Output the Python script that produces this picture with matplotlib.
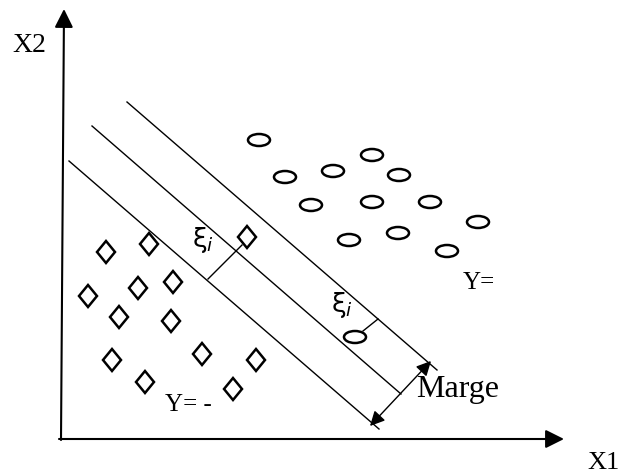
import matplotlib
matplotlib.use('Agg')
import matplotlib.pyplot as plt
from matplotlib.patches import Ellipse, Polygon

plt.rcParams['font.family'] = ['Liberation Serif', 'DejaVu Serif']
plt.rcParams['mathtext.fontset'] = 'dejavusans'

# canvas in pixel units (618 x 474), y pointing down
W, H = 618, 474

# classe Y = + : ellipses
cercles_x = [259, 285, 311, 333, 372, 399, 372, 430, 478, 349, 398, 447, 355]
cercles_y = [140, 177, 205, 171, 155, 175, 202, 202, 222, 240, 233, 251, 337]

# classe Y = - : losanges
losanges_x = [106, 149, 247, 88, 138, 173, 119, 171, 112, 202, 256, 145, 233]
losanges_y = [252, 244, 237, 296, 288, 282, 317, 321, 360, 354, 360, 382, 389]

# hyperplans paralleles (debut -> fin)
lignes_x0 = [127, 92, 69]
lignes_y0 = [102, 126, 161]
lignes_x1 = [437, 401, 379]
lignes_y1 = [370, 394, 429]

# variables d'ecart
ecarts = [((242, 245), (208, 279)), ((363, 331), (378, 319))]
ecarts_txt = [(203, 240), (342, 305)]

fig = plt.figure(figsize=(W / 100, H / 100), dpi=100)
ax = fig.add_axes([0, 0, 1, 1])
ax.set_xlim(0, W)
ax.set_ylim(H, 0)
ax.axis('off')

# axes X1 / X2
ax.annotate('', xy=(64, 9), xytext=(61, 440),
            arrowprops=dict(arrowstyle='-|>', color='black', lw=1.5, mutation_scale=28,
                            shrinkA=0, shrinkB=0))
ax.annotate('', xy=(564, 439), xytext=(59, 439),
            arrowprops=dict(arrowstyle='-|>', color='black', lw=1.5, mutation_scale=28,
                            shrinkA=0, shrinkB=0))
ax.text(12, 45, 'X2', fontsize=20, ha='left', va='center')
ax.text(587, 452, 'X1', fontsize=19, ha='left', va='top')

for x0, y0, x1, y1 in zip(lignes_x0, lignes_y0, lignes_x1, lignes_y1):
    ax.plot([x0, x1], [y0, y1], color='black', lw=1.0)

for x, y in zip(cercles_x, cercles_y):
    ax.add_patch(Ellipse((x, y), 22, 12, fill=False, ec='black', lw=1.8))

for x, y in zip(losanges_x, losanges_y):
    ax.add_patch(Polygon([(x, y - 11), (x + 9, y), (x, y + 11), (x - 9, y)],
                         closed=True, fill=False, ec='black', lw=1.8))

for (a, b), (tx, ty) in zip(ecarts, ecarts_txt):
    ax.plot([a[0], b[0]], [a[1], b[1]], color='black', lw=1.0)
    ax.text(tx, ty, 'ξ$_i$', fontsize=19, family='DejaVu Sans', ha='center', va='center')

# marge
ax.annotate('', xy=(370, 426), xytext=(431, 361),
            arrowprops=dict(arrowstyle='<|-|>', color='black', lw=1.0, mutation_scale=22,
                            shrinkA=0, shrinkB=0))
ax.text(416, 389, 'Marge', fontsize=23, ha='left', va='center')

ax.text(463, 283, 'Y=', fontsize=18, ha='left', va='center')
ax.text(165, 405, 'Y= -', fontsize=18, ha='left', va='center')

fig.savefig('out.png', dpi=100)
